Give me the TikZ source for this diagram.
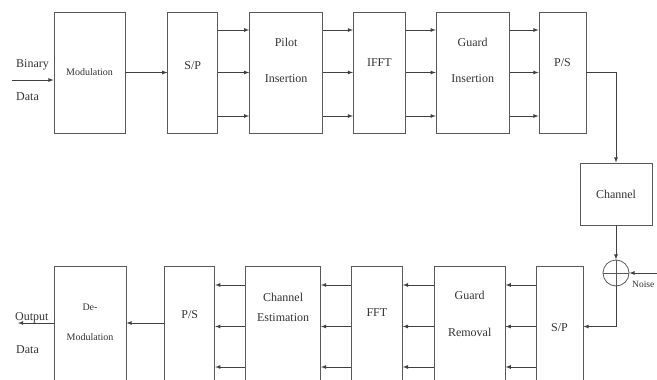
\documentclass[tikz,border=0pt]{standalone}
\usepackage{fontspec}
\setmainfont{Liberation Serif}
\usetikzlibrary{positioning}

\begin{document}
\begin{tikzpicture}[x=1pt, y=-1pt, >=latex,
    blk/.style={rectangle, draw=black!65, line width=0.8pt, minimum height=121pt, inner sep=0pt},
    txt/.style={font=\fontsize{12}{14}\selectfont, text=black!80, inner sep=0pt},
    sml/.style={font=\fontsize{10}{12}\selectfont, text=black!80, inner sep=0pt},
    wire/.style={draw=black!75, line width=0.8pt}]
    \useasboundingbox (0,0) rectangle (657,380);

    % transmitter
    \node [blk, minimum width=71pt] (mod) at (89.5,72.5) {};
    \node [blk, minimum width=50pt, right=42pt of mod] (sp) {};
    \node [blk, minimum width=73pt, right=31pt of sp] (pilot) {};
    \node [blk, minimum width=52pt, right=30pt of pilot] (ifft) {};
    \node [blk, minimum width=73pt, right=30pt of ifft] (gins) {};
    \node [blk, minimum width=47pt, right=29pt of gins] (ps) {};

    \node [sml] (modtxt) at (mod.center) {Modulation};
    \node [txt] (sptxt) at ([yshift=7pt]sp.center) {S/P};
    \node [txt] (pilottxt) at ([yshift=30pt]pilot.center) {Pilot};
    \node [txt] (pilotins) at ([yshift=-6pt]pilot.center) {Insertion};
    \node [txt] (iffttxt) at ([yshift=10pt]ifft.center) {IFFT};
    \node [txt] (ginstxt) at ([yshift=30pt]gins.center) {Guard};
    \node [txt] (ginsins) at ([yshift=-6pt]gins.center) {Insertion};
    \node [txt] (pstxt) at ([yshift=10pt]ps.center) {P/S};

    % channel and noise
    \node [blk, minimum width=72pt, minimum height=62pt] (chan) at (616,194) {};
    \node [txt] (chantxt) at (chan.center) {Channel};
    \node [circle, draw=black!65, line width=0.8pt, minimum size=26pt, inner sep=0pt,
        path picture={\draw [black!65, line width=0.8pt] (path picture bounding box.north) -- (path picture bounding box.south)
            (path picture bounding box.west) -- (path picture bounding box.east);}] (sum) at (616,273) {};
    \coordinate (noisein) at (672,273);
    \node [font=\fontsize{9.5}{11}\selectfont, text=black!80, inner sep=0pt, anchor=west] (noise) at (632,284) {Noise};

    % receiver
    \node [blk, minimum width=47pt] (sp2) at (559.5,326.5) {};
    \node [blk, minimum width=71pt, left=30pt of sp2] (grem) {};
    \node [blk, minimum width=51pt, left=31pt of grem] (fft) {};
    \node [blk, minimum width=75pt, left=30pt of fft] (chest) {};
    \node [blk, minimum width=50pt, left=30pt of chest] (ps2) {};
    \node [blk, minimum width=72pt, left=38pt of ps2] (demod) {};

    \node [txt] (sp2txt) at ([yshift=-1.5pt]sp2.center) {S/P};
    \node [txt] (gremtxt) at ([yshift=31.5pt]grem.center) {Guard};
    \node [txt] (gremrem) at ([yshift=-5.5pt]grem.center) {Removal};
    \node [txt] (ffttxt) at ([yshift=13.5pt]fft.center) {FFT};
    \node [txt] (chesttxt) at ([yshift=29.5pt]chest.center) {Channel};
    \node [txt] (chestest) at ([yshift=8.5pt]chest.center) {Estimation};
    \node [txt] (ps2txt) at ([yshift=11.5pt]ps2.center) {P/S};
    \node [sml] (demodtxt) at ([yshift=19.5pt]demod.center) {De-};
    \node [sml] (demodmod) at ([yshift=-10.5pt]demod.center) {Modulation};

    % input and output
    \coordinate (bin) at (12,80);
    \node [txt, anchor=west] (bintxt) at (16,65) {Binary};
    \node [txt, anchor=west] (bindata) at (16,97) {Data};
    \coordinate (out) at (18,323);
    \node [txt, anchor=west] (outtxt) at (15,318) {Output};
    \node [txt, anchor=west] (outdata) at (16,350) {Data};

    \draw [wire, ->] (bin) -- (bin -| mod.west);
    \draw [wire, ->] (mod.east) -- (sp.west);
    \foreach \a/\b in {sp/pilot, pilot/ifft, ifft/gins, gins/ps}
        \foreach \d in {42.5, 0, -43.5}
            \draw [wire, ->] ([yshift=\d pt]\a.east) -- ([yshift=\d pt]\b.west);
    \draw [wire, ->] (ps.east) -- (ps.east -| chan.north) -- (chan.north);
    \draw [wire, ->] (chan.south) -- (sum.north);
    \draw [wire, ->] (noisein) -- (sum.east);
    \draw [wire, ->] (sum.south) -- (sum.south |- sp2.east) -- (sp2.east);
    \foreach \a/\b in {sp2/grem, grem/fft, fft/chest, chest/ps2}
        \foreach \d in {41.5, 0, -40.5}
            \draw [wire, ->] ([yshift=\d pt]\a.west) -- ([yshift=\d pt]\b.east);
    \draw [wire, ->] ([yshift=3.5pt]ps2.west) -- ([yshift=3.5pt]demod.east);
    \draw [wire, ->] (demod.west |- out) -- (out);
\end{tikzpicture}
\end{document}
